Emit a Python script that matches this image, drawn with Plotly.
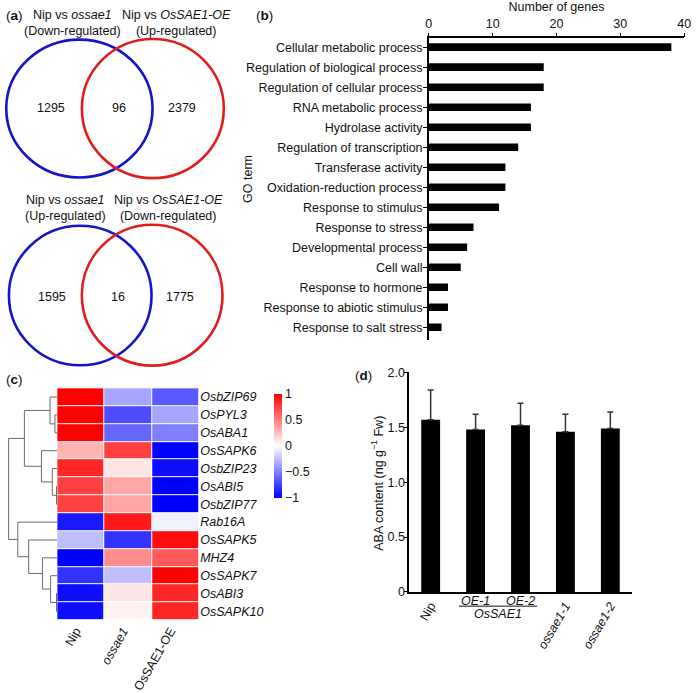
import plotly.graph_objects as go

W, H = 700, 693
FONT = "Arial, Liberation Sans, sans-serif"
FS = 12.5

# ---------------- Panel (a) data ----------------
venn_top_titles = ["Nip vs <i>ossae1</i><br>(Down-regulated)", "Nip vs <i>OsSAE1-OE</i><br>(Up-regulated)"]
venn_top_counts = [1295, 96, 2379]
venn_bottom_titles = ["Nip vs <i>ossae1</i><br>(Up-regulated)", "Nip vs <i>OsSAE1-OE</i><br>(Down-regulated)"]
venn_bottom_counts = [1595, 16, 1775]

# ---------------- Panel (b) data ----------------
go_terms = ["Cellular metabolic process", "Regulation of biological process",
            "Regulation of cellular process", "RNA metabolic process", "Hydrolase activity",
            "Regulation of transcription", "Transferase activity", "Oxidation-reduction process",
            "Response to stimulus", "Response to stress", "Developmental process", "Cell wall",
            "Response to hormone", "Response to abiotic stimulus", "Response to salt stress"]
go_counts = [38, 18, 18, 16, 16, 14, 12, 12, 11, 7, 6, 5, 3, 3, 2]

# ---------------- Panel (c) data ----------------
genes = ["OsbZIP69", "OsPYL3", "OsABA1", "OsSAPK6", "OsbZIP23", "OsABI5", "OsbZIP77",
         "Rab16A", "OsSAPK5", "MHZ4", "OsSAPK7", "OsABI3", "OsSAPK10"]
samples = ["Nip", "<i>ossae1</i>", "OsSAE1-OE"]
z_nip = [1.0, 1.0, 1.0, 0.3, 0.85, 0.75, 0.75, -0.9, -0.25, -1.0, -0.8, -0.95, -0.95]
z_ossae1 = [-0.35, -0.7, -0.6, 0.75, 0.1, 0.35, 0.35, 0.9, -0.8, 0.45, -0.25, 0.1, 0.05]
z_oe = [-0.65, -0.35, -0.5, -1.0, -0.95, -1.0, -1.0, -0.05, 0.95, 0.65, 1.0, 0.85, 0.85]
# linkage: (node_a, node_b, height); new nodes numbered from 13
linkage = [
    (1, 2, 2.3),     # 13
    (0, 13, 7.3),    # 14
    (5, 6, 0.7),     # 15
    (4, 15, 5.0),    # 16
    (3, 16, 16.0),   # 17
    (14, 17, 33.3),  # 18
    (11, 12, 0.7),   # 19
    (10, 19, 6.7),   # 20
    (9, 20, 15.0),   # 21
    (8, 21, 29.0),   # 22
    (7, 22, 40.0),   # 23
    (18, 23, 49.3),  # 24
]

# ---------------- Panel (d) data ----------------
aba_groups = ["Nip", "OE-1", "OE-2", "ossae1-1", "ossae1-2"]
aba_mean = [1.57, 1.48, 1.52, 1.46, 1.49]
aba_sd = [0.27, 0.14, 0.20, 0.16, 0.15]


def fx(p):
    return p / W


def fy(p):
    return 1 - p / H


fig = go.Figure()
shapes = []
ann = []

# ---------------- Panel (a) ----------------
def venn(titles, counts, ty, cy, blue_box, red_box, num_x):
    bx0, by0, bx1, by1 = blue_box
    rx0, ry0, rx1, ry1 = red_box
    shapes.append(dict(type="circle", xref="paper", yref="paper",
                       x0=fx(bx0), x1=fx(bx1), y0=fy(by1), y1=fy(by0),
                       line=dict(color="#1515c8", width=2.6)))
    shapes.append(dict(type="circle", xref="paper", yref="paper",
                       x0=fx(rx0), x1=fx(rx1), y0=fy(ry1), y1=fy(ry0),
                       line=dict(color="#e01e1e", width=2.6)))
    for (tx, t) in zip(ty[0], titles):
        ann.append(dict(x=fx(tx), y=fy(ty[1]), xref="paper", yref="paper", text=t,
                        showarrow=False, xanchor="center", yanchor="middle",
                        font=dict(size=FS, family=FONT, color="#111")))
    for x, c in zip(num_x, counts):
        ann.append(dict(x=fx(x), y=fy(cy), xref="paper", yref="paper", text=str(c),
                        showarrow=False, xanchor="center", yanchor="middle",
                        font=dict(size=FS, family=FONT, color="#111")))


venn(venn_top_titles, venn_top_counts, ([71, 176], 16.5), 103,
     (3.3, 33.3, 151.7, 174), (80, 32.7, 224, 174.7), [49, 117.5, 181.5])
venn(venn_bottom_titles, venn_bottom_counts, ([63, 168], 205), 296,
     (6, 223.3, 150.7, 365.7), (80, 222.3, 222.7, 366), [50, 117, 179.5])

# ---------------- Panel (b) ----------------
fig.add_trace(go.Bar(x=go_counts, y=list(range(len(go_terms))), orientation="h",
                     marker=dict(color="black", line=dict(width=0)), width=0.38,
                     xaxis="x", yaxis="y", hoverinfo="skip"))

# ---------------- Panel (c) dendrogram ----------------
n = len(genes)
pos_y = {i: float(i) for i in range(n)}
pos_h = {i: 0.0 for i in range(n)}
dx, dy = [], []
for k, (a, b, h) in enumerate(linkage):
    node = n + k
    dx += [pos_h[a], h, h, pos_h[b], None]
    dy += [pos_y[a], pos_y[a], pos_y[b], pos_y[b], None]
    pos_y[node] = (pos_y[a] + pos_y[b]) / 2
    pos_h[node] = h
fig.add_trace(go.Scatter(x=dx, y=dy, mode="lines", line=dict(color="#6a6a6a", width=1),
                         xaxis="x3", yaxis="y3", hoverinfo="skip"))

# ---------------- Panel (c) heatmap ----------------
z = [[a, b, c] for a, b, c in zip(z_nip, z_ossae1, z_oe)]
fig.add_trace(go.Heatmap(
    z=z, x=[0, 1, 2], y=list(range(n)), zmin=-1, zmax=1, xgap=1, ygap=1,
    colorscale=[[0, "#0000ff"], [0.5, "#ffffff"], [1, "#ff0000"]],
    xaxis="x4", yaxis="y4", hoverinfo="skip",
    colorbar=dict(x=fx(275), xanchor="left", xpad=0, y=fy(448), yanchor="middle",
                  len=106 / H, lenmode="fraction", ypad=0, thickness=8, outlinewidth=0,
                  tickvals=[-1, -0.5, 0, 0.5, 1], ticktext=["−1", "−0.5", "0", "0.5", "1"],
                  ticks="", tickfont=dict(size=FS, family=FONT, color="#111"))))

# ---------------- Panel (d) ----------------
fig.add_trace(go.Bar(x=list(range(len(aba_groups))), y=aba_mean, width=0.42,
                     marker=dict(color="black", line=dict(width=0)),
                     error_y=dict(type="data", symmetric=False, array=aba_sd,
                                  arrayminus=[0] * len(aba_sd), color="#333",
                                  thickness=1.5, width=3),
                     xaxis="x5", yaxis="y5", hoverinfo="skip"))

for i in (1, 2):
    ann.append(dict(x=i, y=fy(606), xref="x5", yref="paper", text="<i>" + aba_groups[i] + "</i>",
                    showarrow=False, xanchor="center", yanchor="middle",
                    font=dict(size=FS, family=FONT, color="#111")))
ann.append(dict(x=1.5, y=fy(620), xref="x5", yref="paper", text="<i>OsSAE1</i>",
                showarrow=False, xanchor="center", yanchor="middle",
                font=dict(size=FS, family=FONT, color="#111")))
shapes.append(dict(type="line", xref="x5", yref="paper", x0=0.63, x1=2.37,
                   y0=fy(611.5), y1=fy(611.5), line=dict(color="#111", width=1)))

# panel labels and axis titles drawn as annotations
for txt, x, y in [("(<b>a</b>)", 1, 9), ("(<b>b</b>)", 255, 9), ("(<b>c</b>)", 1, 380),
                  ("(<b>d</b>)", 355, 376)]:
    ann.append(dict(x=fx(x), y=fy(y), xref="paper", yref="paper", text=txt, showarrow=False,
                    xanchor="left", yanchor="middle", font=dict(size=13.5, family=FONT, color="#111")))
ann.append(dict(x=fx(249), y=fy(175), xref="paper", yref="paper", text="GO term", showarrow=False,
                textangle=-90, xanchor="center", yanchor="middle",
                font=dict(size=FS, family=FONT, color="#111")))
ann.append(dict(x=fx(380), y=fy(486), xref="paper", yref="paper",
                text="ABA content (ng g<sup>−1</sup> Fw)", showarrow=False,
                textangle=-90, xanchor="center", yanchor="middle",
                font=dict(size=FS, family=FONT, color="#111")))

tf = dict(size=FS, family=FONT, color="#111")
d_tickidx = [0, 3, 4]
fig.update_layout(
    width=W, height=H, margin=dict(l=0, r=0, t=0, b=0),
    paper_bgcolor="white", plot_bgcolor="white", showlegend=False,
    font=dict(family=FONT, size=FS, color="#111"),
    shapes=shapes, annotations=ann,
    # panel b
    xaxis=dict(domain=[fx(432), fx(691)], range=[0, 40], side="top", anchor="y",
               showline=True, linecolor="black", linewidth=1.5, ticks="outside", ticklen=4,
               tickwidth=1.2, tickcolor="black",
               tickvals=[0, 10, 20, 30, 40], showgrid=False, zeroline=False, tickfont=tf,
               title=dict(text="Number of genes", font=tf, standoff=3)),
    yaxis=dict(domain=[fy(340), fy(32)], range=[14.64, -0.44], anchor="x",
               tickvals=list(range(len(go_terms))), ticktext=go_terms, showline=True,
               linecolor="black", linewidth=1.5, ticks="outside", ticklen=4, tickwidth=1.2,
               tickcolor="black", showgrid=False, zeroline=False, tickfont=tf,
               ticklabelstandoff=-2),
    # dendrogram
    xaxis3=dict(domain=[0, fx(55)], range=[55, 0], anchor="y3", visible=False),
    yaxis3=dict(domain=[fy(626), fy(389)], range=[n - 0.5, -0.5], anchor="x3", visible=False),
    # heatmap
    xaxis4=dict(domain=[fx(55), fx(199)], range=[-0.5, 2.5], anchor="y4",
                tickvals=[0, 1, 2], ticktext=samples, tickangle=-60, ticks="",
                showgrid=False, zeroline=False, showline=False, tickfont=tf,
                ticklabelshift=-5),
    yaxis4=dict(domain=[fy(626), fy(389)], range=[n - 0.5, -0.5], anchor="x4", side="right",
                tickvals=list(range(n)), ticktext=["<i>" + g + "</i>" for g in genes], ticks="",
                showgrid=False, zeroline=False, showline=False, tickfont=tf),
    # panel d
    xaxis5=dict(domain=[fx(412), fx(638)], range=[-0.48, 4.48], anchor="y5",
                tickvals=d_tickidx,
                ticktext=["Nip" if i == 0 else "<i>" + aba_groups[i] + "</i>" for i in d_tickidx],
                tickangle=-60, ticks="", showline=True, linecolor="black", linewidth=1.5,
                showgrid=False, zeroline=False, tickfont=tf),
    yaxis5=dict(domain=[fy(597), fy(373)], range=[0, 2.0], anchor="x5",
                tickvals=[0, 0.5, 1.0, 1.5, 2.0], ticktext=["0", "0.5", "1.0", "1.5", "2.0"],
                ticks="outside", ticklen=3, tickwidth=1.2, tickcolor="black", showline=True,
                linecolor="black", linewidth=1.5, showgrid=False, zeroline=False, tickfont=tf,
                ticklabelstandoff=-3),
)

fig.write_html("out.html", config={"displayModeBar": False},
               post_script="document.body.style.margin='0';")
